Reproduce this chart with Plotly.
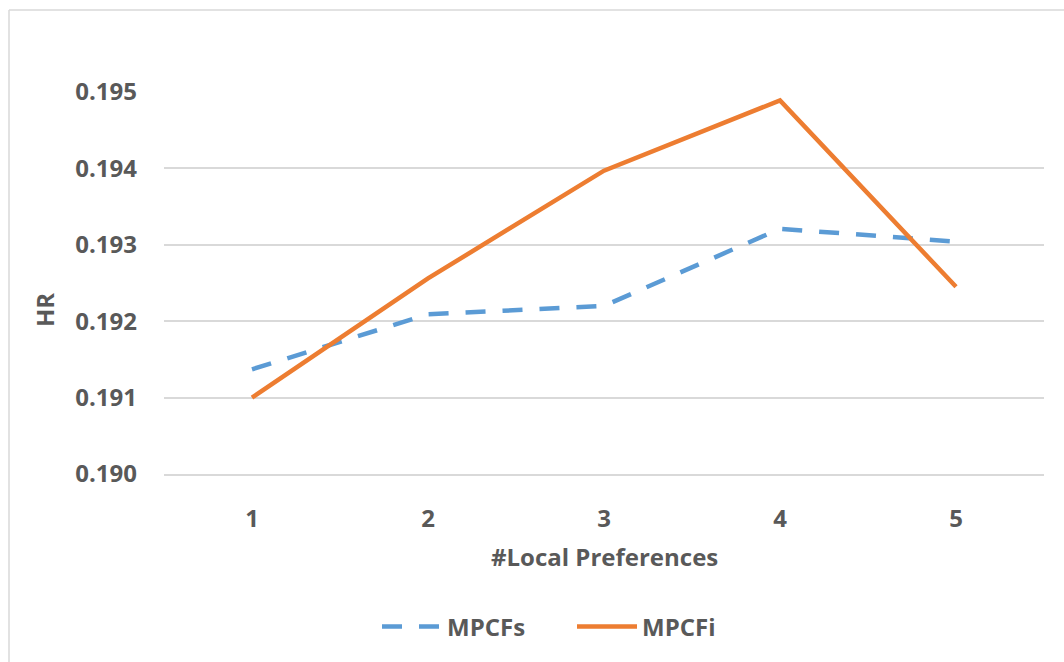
import plotly.graph_objects as go

# Number of local preferences (x categories)
local_prefs = [1, 2, 3, 4, 5]

# Hit ratio per model
hr_mpcfs = [0.19137, 0.19209, 0.19220, 0.19321, 0.19304]
hr_mpcfi = [0.19100, 0.19256, 0.19397, 0.19489, 0.19245]

y_ticks = [0.190, 0.191, 0.192, 0.193, 0.194, 0.195]
y_tick_text = ["0.190", "0.191", "0.192", "0.193", "0.194", "0.195"]

W, H = 1064, 662
ML, MR, MT, MB = 164, 20, 92, 188
PW, PH = W - ML - MR, H - MT - MB

TEXT = "#595959"
GRID = "#D9D9D9"
FONT = "Open Sans"
FS = 24


def px_x(x):
    return (x - ML) / PW


def px_y(y):
    return (H - MB - y) / PH


fig = go.Figure()
fig.add_trace(go.Scatter(
    x=local_prefs, y=hr_mpcfs, name="MPCFs", mode="lines",
    line=dict(color="#5B9BD5", width=4.5, dash="20px,17px"),
))
fig.add_trace(go.Scatter(
    x=local_prefs, y=hr_mpcfi, name="MPCFi", mode="lines",
    line=dict(color="#ED7D31", width=4.5),
))

fig.update_layout(
    width=W, height=H,
    margin=dict(l=ML, r=MR, t=MT, b=MB, pad=0),
    paper_bgcolor="white", plot_bgcolor="white",
    font=dict(family=FONT, color=TEXT, size=FS, weight="bold"),
    showlegend=True,
    legend=dict(
        orientation="h", x=px_x(377), y=px_y(627),
        xanchor="left", yanchor="middle",
        font=dict(size=FS, color=TEXT, family=FONT, weight="bold"),
        itemwidth=60, tracegroupgap=0,
        entrywidth=120, entrywidthmode="pixels",
    ),
    xaxis=dict(
        range=[0.5, 5.5], tickvals=local_prefs,
        ticktext=[str(v) for v in local_prefs],
        showgrid=False, zeroline=False,
        showline=True, linecolor=GRID, linewidth=1.5,
        ticks="", ticklabelstandoff=22,
        tickfont=dict(size=FS, color=TEXT, family=FONT, weight="bold"),
    ),
    yaxis=dict(
        range=[0.190, 0.195], tickvals=y_ticks, ticktext=y_tick_text,
        showgrid=True, gridcolor=GRID, gridwidth=1.5,
        zeroline=False, showline=False, ticks="",
        ticklabelstandoff=26,
        tickfont=dict(size=FS, color=TEXT, family=FONT, weight="bold"),
    ),
)

# Axis titles
fig.add_annotation(
    text="#Local Preferences", xref="paper", yref="paper",
    x=px_x(604), y=px_y(556), xanchor="center", yanchor="middle",
    showarrow=False, font=dict(size=FS, color=TEXT, family=FONT, weight="bold"),
)
fig.add_annotation(
    text="HR", xref="paper", yref="paper", textangle=-90,
    x=px_x(44), y=px_y(310), xanchor="center", yanchor="middle",
    showarrow=False, font=dict(size=FS, color=TEXT, family=FONT, weight="bold"),
)

# Chart frame (left and top edges)
fig.add_shape(type="line", xref="paper", yref="paper",
              x0=px_x(9), y0=px_y(H + 5), x1=px_x(9), y1=px_y(10),
              line=dict(color=GRID, width=1.5))
fig.add_shape(type="line", xref="paper", yref="paper",
              x0=px_x(9), y0=px_y(10), x1=px_x(W + 5), y1=px_y(10),
              line=dict(color=GRID, width=1.5))

fig.write_html("out.html")
